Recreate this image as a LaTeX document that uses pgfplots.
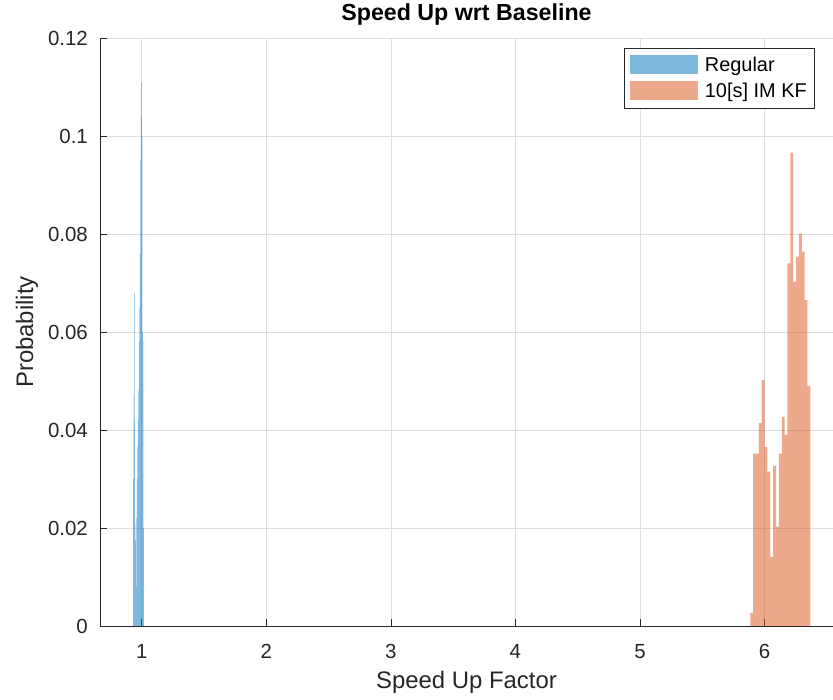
\documentclass[border=0pt]{standalone}
\usepackage{pgfplots}
\pgfplotsset{compat=1.18}
\usepackage{fontspec}
\setmainfont{Liberation Sans}
\definecolor{mblue}{RGB}{0,114,189}
\definecolor{morange}{RGB}{217,83,25}
\definecolor{axgray}{RGB}{38,38,38}
\pgfplotsset{histleg/.style={legend image code/.code={\fill[##1] (0bp,-9bp) rectangle (68bp,10bp);}}}

\begin{document}
\begin{tikzpicture}
\begin{axis}[
  scale only axis, width=733bp, height=588bp,
  xmin=0.665, xmax=6.55, ymin=0, ymax=0.12,
  axis x line*=bottom, axis y line*=left,
  axis line style={axgray, line width=0.6bp, -},
  xtick={1,2,3,4,5,6},
  ytick={0,0.02,0.04,0.06,0.08,0.1,0.12},
  yticklabels={0,0.02,0.04,0.06,0.08,0.1,0.12},
  tick align=inside, major tick length=7bp,
  tick style={axgray, line width=0.6bp},
  grid=major, major grid style={black!13, line width=0.6bp},
  /pgf/number format/assume math mode=true,
  ticklabel style={font=\fontsize{20.5}{24}\selectfont, text=axgray, inner sep=0pt},
  xticklabel style={anchor=base, yshift=-32bp},
  yticklabel style={anchor=east, xshift=-12bp},
  xlabel={Speed Up Factor}, ylabel={Probability},
  label style={font=\fontsize{24}{28}\selectfont, text=axgray, inner sep=0pt},
  xlabel style={at={(axis description cs:0.5,-0.1071)}, anchor=base},
  ylabel style={at={(axis description cs:-0.0914,0.5)}, anchor=base},
  title={Speed Up wrt Baseline},
  title style={font=\bfseries\fontsize{23.3}{27}\selectfont, inner sep=0pt, at={(axis description cs:0.5,1.0204)}, anchor=base},
  legend style={at={(axis description cs:0.9755,0.983)}, anchor=north east, draw=axgray, line width=0.6bp, font=\fontsize{20}{24}\selectfont, fill=white,
    inner xsep=6bp, inner ysep=7bp, row sep=6bp,
    /tikz/every odd column/.append style={column sep=5bp}},
  legend cell align=left,
]
\addplot[ybar interval, fill=mblue, fill opacity=0.5, draw=none, histleg] table {
x y
0.930 0.030
0.934 0.047
0.938 0.068
0.942 0.042
0.946 0.021
0.950 0.0175
0.954 0.008
0.958 0.022
0.962 0.030
0.966 0.0365
0.970 0.042
0.974 0.048
0.978 0.058
0.982 0.065
0.986 0.076
0.990 0.095
0.994 0.104
0.998 0.111
1.002 0.100
1.006 0.060
1.010 0.058
1.014 0.020
1.018 0.020
};
\addlegendentry{Regular}
\addplot[ybar interval, fill=morange, fill opacity=0.5, draw=none, histleg] table {
x y
5.8860 0.0027
5.9090 0.0352
5.9319 0.0352
5.9549 0.0414
5.9778 0.0502
6.0008 0.0365
6.0237 0.0315
6.0467 0.0141
6.0696 0.0327
6.0926 0.0203
6.1155 0.0352
6.1385 0.0427
6.1614 0.0390
6.1844 0.0740
6.2073 0.0966
6.2303 0.0703
6.2532 0.0754
6.2762 0.0801
6.2991 0.0764
6.3221 0.0665
6.3450 0.0490
6.3680 0.0490
};
\addlegendentry{10[s] IM KF}
\end{axis}
\pgfresetboundingbox
\path[use as bounding box] ([xshift=-100bp,yshift=-74bp]current axis.south west) rectangle ([yshift=38bp]current axis.north east);
\end{tikzpicture}
\end{document}
